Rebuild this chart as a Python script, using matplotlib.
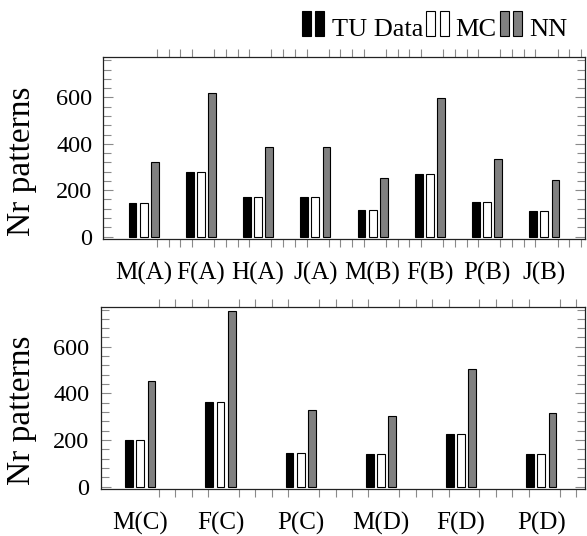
import matplotlib
matplotlib.use('Agg')
import matplotlib.pyplot as plt
import numpy as np
from matplotlib.patches import Rectangle
from matplotlib.legend_handler import HandlerBase
from matplotlib.container import BarContainer
from matplotlib.ticker import MultipleLocator, FixedLocator

# ---------------- data ----------------
top_categories = ['M(A)', 'F(A)', 'H(A)', 'J(A)', 'M(B)', 'F(B)', 'P(B)', 'J(B)']
top_tu = [146, 280, 169, 172, 115, 268, 149, 112]
top_mc = [146, 280, 169, 171, 115, 268, 149, 112]
top_nn = [321, 617, 385, 385, 254, 597, 334, 244]

bottom_categories = ['M(C)', 'F(C)', 'P(C)', 'M(D)', 'F(D)', 'P(D)']
bottom_tu = [200, 363, 144, 138, 227, 141]
bottom_mc = [200, 363, 144, 138, 227, 141]
bottom_nn = [451, 755, 330, 303, 505, 316]

series_names = ['TU Data', 'MC', 'NN']
series_colors = ['black', 'white', '#808080']

plt.rcParams['font.family'] = ['Liberation Serif', 'DejaVu Serif']

W, H = 587, 536
fig = plt.figure(figsize=(W / 100, H / 100), dpi=100)


def axrect(l, t, r, b):
    return [l / W, 1 - b / H, (r - l) / W, (b - t) / H]


ax1 = fig.add_axes(axrect(103.3, 57.3, 585, 239.3))
ax2 = fig.add_axes(axrect(100.7, 306.5, 585, 489.3))

TICK_GRAY = '#8a8a8a'


class TwoBars(HandlerBase):
    def create_artists(self, legend, orig_handle, xdescent, ydescent,
                       width, height, fontsize, trans):
        fc = orig_handle.patches[0].get_facecolor()
        bw = width * 0.40
        h = height * 1.35
        y0 = -ydescent + height * 0.02
        arts = []
        for x0 in (-xdescent, -xdescent + width - bw):
            arts.append(Rectangle((x0, y0), bw, h, facecolor=fc,
                                  edgecolor='black', linewidth=0.8,
                                  transform=trans))
        return arts


def draw(ax, cats, tu, mc, nn, xlim, px_per_unit, ylabel_xy):
    x = np.arange(len(cats))
    off = 11.2 / px_per_unit
    w = 7.8 / px_per_unit
    conts = []
    for i, (vals, col) in enumerate(zip([tu, mc, nn], series_colors)):
        c = ax.bar(x + (i - 1) * off, vals, width=w, color=col,
                   edgecolor='black', linewidth=0.8, label=series_names[i], zorder=3)
        conts.append(c)
    ax.set_xlim(*xlim)
    ax.set_ylim(-12, 773)
    # y ticks
    ax.yaxis.set_major_locator(MultipleLocator(200))
    ax.yaxis.set_minor_locator(MultipleLocator(40))
    ax.tick_params(axis='y', which='both', direction='in', left=True, right=True,
                   color=TICK_GRAY, width=0.8, labelsize=17.5, pad=8)
    ax.tick_params(axis='y', which='major', length=7)
    ax.tick_params(axis='y', which='minor', length=5.5)
    # x ticks: labels (major, no marks) and minor marks outward
    ax.set_xticks(x)
    ax.set_xticklabels(cats)
    minor = [k + f for k in x for f in (0.23, 0.435, 0.64, 0.845)]
    minor = [m for m in minor if xlim[0] < m < xlim[1]]
    ax.xaxis.set_minor_locator(FixedLocator(minor))
    ax.tick_params(axis='x', which='major', length=0, labelsize=18, pad=16)
    ax.tick_params(axis='x', which='minor', direction='out', top=True, bottom=True,
                   length=6, width=0.8, color=TICK_GRAY)
    for s in ax.spines.values():
        s.set_linewidth(0.9)
        s.set_color('#222222')
    ax.set_ylabel('Nr patterns', fontsize=24)
    ax.yaxis.set_label_coords(*ylabel_xy)
    return conts


conts = draw(ax1, top_categories, top_tu, top_mc, top_nn, (-0.705, 7.71), 57.3,
             (-0.1376, 0.43))
draw(ax2, bottom_categories, bottom_tu, bottom_mc, bottom_nn, (-0.494, 5.546), 80.2,
     (-0.1315, 0.43))

fig.legend(conts, series_names, loc='lower left', bbox_to_anchor=(302 / W, 1 - 41 / H),
           ncol=3, frameon=False, borderpad=0, borderaxespad=0, handletextpad=0.27,
           columnspacing=0.12, handlelength=0.85, fontsize=19,
           handler_map={BarContainer: TwoBars()})

fig.savefig('out.png', dpi=100)
